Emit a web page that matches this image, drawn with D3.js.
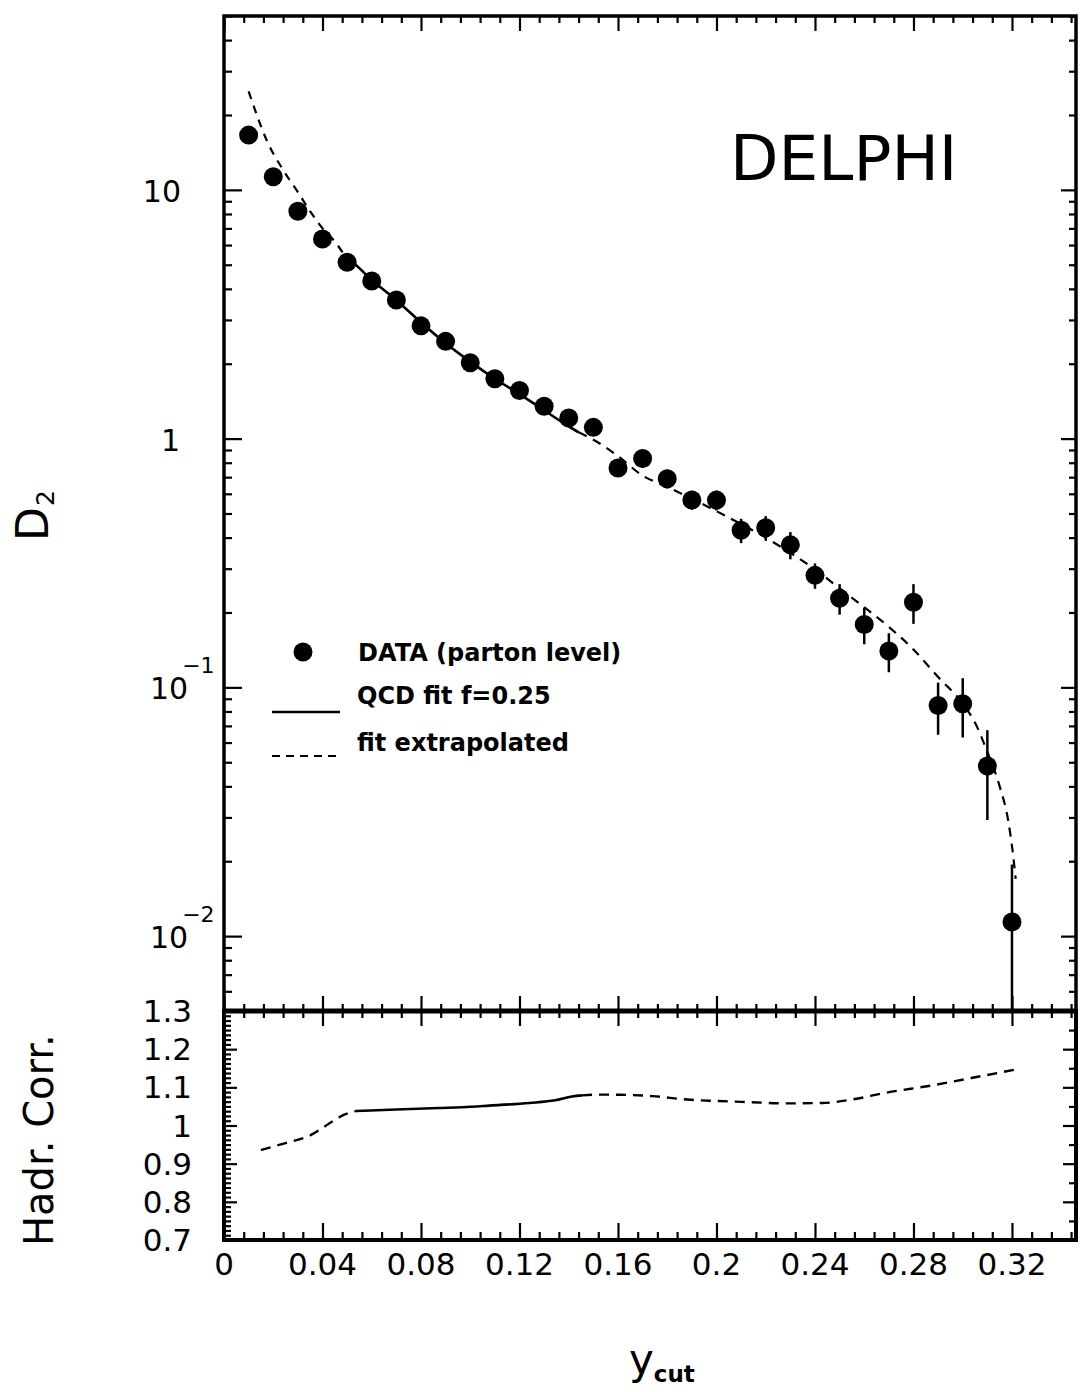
<!DOCTYPE html>
<html><head><meta charset="utf-8">
<script src="https://cdn.jsdelivr.net/npm/d3@7"></script>
<style>html,body{margin:0;padding:0;background:#fff;} svg{display:block;}</style>
</head><body>
<svg id="chart" width="1080" height="1392"></svg>
<script>
// ---------- data ----------
const yCut = [0.01,0.02,0.03,0.04,0.05,0.06,0.07,0.08,0.09,0.10,0.11,0.12,0.13,0.14,0.15,0.16,
              0.17,0.18,0.19,0.20,0.21,0.22,0.23,0.24,0.25,0.26,0.27,0.28,0.29,0.30,0.31,0.32];
const d2Data = [16.6,11.3,8.2,6.35,5.12,4.3,3.61,2.84,2.46,2.02,1.74,1.56,1.35,1.21,1.11,0.762,
                0.832,0.690,0.567,0.566,0.428,0.438,0.374,0.282,0.228,0.179,0.140,0.220,0.0845,0.0859,0.0483,0.0114];
const d2Err = [0.5,0.35,0.25,0.2,0.15,0.13,0.11,0.09,0.08,0.07,0.06,0.06,0.05,0.05,0.05,0.06,
               0.07,0.06,0.05,0.052,0.048,0.05,0.047,0.033,0.032,0.030,0.025,0.040,0.020,0.023,0.019,0.008];

// QCD fit, extrapolated part at small ycut (dashed)
const fitLowX = [0.01,0.0175,0.0236,0.03,0.035,0.04,0.045,0.049];
const fitLowY = [24.9,15.7,12.2,9.8,8.2,7.0,6.2,5.45];
// QCD fit f=0.25, fitted range (solid)
const fitMidX = [0.049,0.05,0.06,0.07,0.08,0.09,0.10,0.11,0.12,0.13,0.14,0.144];
const fitMidY = [5.45,5.36,4.34,3.60,2.93,2.42,2.04,1.74,1.51,1.30,1.12,1.06];
// QCD fit, extrapolated part at large ycut (dashed)
const fitHighX = [0.144,0.15,0.16,0.17,0.18,0.19,0.20,0.21,0.22,0.23,0.24,0.25,0.26,0.27,0.28,0.29,0.30,0.305,0.31,0.315,0.3185,0.3205,0.3215];
const fitHighY = [1.06,0.99,0.85,0.71,0.64,0.573,0.511,0.453,0.40,0.347,0.298,0.25,0.21,0.175,0.142,0.110,0.086,0.072,0.055,0.040,0.029,0.021,0.017];

// Hadronisation correction (bottom panel)
const hadLowX = [0.015,0.025,0.035,0.0427,0.048,0.0536];
const hadLowY = [0.936,0.954,0.974,1.005,1.026,1.038];
const hadMidX = [0.0536,0.07,0.0873,0.0967,0.1076,0.124,0.1345,0.1413,0.1454];
const hadMidY = [1.038,1.042,1.046,1.048,1.052,1.059,1.066,1.076,1.079];
const hadHighX = [0.1454,0.1523,0.161,0.174,0.188,0.201,0.214,0.228,0.243,0.255,0.269,0.2875,0.304,0.3216];
const hadHighY = [1.079,1.081,1.0805,1.077,1.068,1.064,1.061,1.058,1.059,1.068,1.086,1.105,1.125,1.147];

const xMajorTicks = [0,0.04,0.08,0.12,0.16,0.2,0.24,0.28,0.32];
const xTickLabels = ["0","0.04","0.08","0.12","0.16","0.2","0.24","0.28","0.32"];
const topDecades = [10,1,0.1,0.01];
const topDecadeLabels = [["10",""],["1",""],["10","\u22121"],["10","\u22122"]];
const botTicks = [0.7,0.8,0.9,1.0,1.1,1.2,1.3];
const botTickLabels = ["0.7","0.8","0.9","1","1.1","1.2","1.3"];

const legendLabels = ["DATA (parton level)","QCD fit f=0.25","fit extrapolated"];

// ---------- layout ----------
const L = 224, R = 1076, T = 16, J = 1011, B = 1240;
const svg = d3.select("#chart");
const x = d3.scaleLinear().domain([0, 0.346]).range([L, R]);
const yT = d3.scaleLog().domain([0.005, 50]).range([J, T]);
const yB = d3.scaleLinear().domain([0.7, 1.3]).range([B, J]);
const FONT = "'DejaVu Sans', sans-serif";

function styleAxis(g, w) {
  g.select(".domain").remove();
  g.selectAll(".tick line").attr("stroke", "#000").attr("stroke-width", w || 2.2);
  g.selectAll(".tick text").remove();
}
const minorX = d3.range(0, 0.3461, 0.008).filter(v => xMajorTicks.every(m => Math.abs(m - v) > 1e-6));
const logMinor = [];
[0.001,0.01,0.1,1,10].forEach(dec => { for (let k = 2; k <= 9; k++) { const v = dec*k; if (v >= 0.005 && v <= 50) logMinor.push(v); } });

// top panel: top axis (inward)
svg.append("g").attr("transform", `translate(0,${T})`).call(d3.axisBottom(x).tickValues(xMajorTicks).tickSize(15)).call(styleAxis);
svg.append("g").attr("transform", `translate(0,${T})`).call(d3.axisBottom(x).tickValues(minorX).tickSize(7)).call(styleAxis);
// junction ticks crossing both ways
svg.append("g").attr("transform", `translate(0,${J})`).call(d3.axisBottom(x).tickValues(xMajorTicks).tickSize(15)).call(styleAxis);
svg.append("g").attr("transform", `translate(0,${J})`).call(d3.axisTop(x).tickValues(xMajorTicks).tickSize(15)).call(styleAxis);
svg.append("g").attr("transform", `translate(0,${J})`).call(d3.axisBottom(x).tickValues(minorX).tickSize(7)).call(styleAxis);
svg.append("g").attr("transform", `translate(0,${J})`).call(d3.axisTop(x).tickValues(minorX).tickSize(7)).call(styleAxis);
// bottom panel bottom axis (inward)
svg.append("g").attr("transform", `translate(0,${B})`).call(d3.axisTop(x).tickValues(xMajorTicks).tickSize(17)).call(styleAxis);
svg.append("g").attr("transform", `translate(0,${B})`).call(d3.axisTop(x).tickValues(minorX).tickSize(8)).call(styleAxis);

// top panel left / right log axes (inward)
svg.append("g").attr("transform", `translate(${L},0)`).call(d3.axisRight(yT).tickValues(topDecades).tickSize(18)).call(styleAxis);
svg.append("g").attr("transform", `translate(${L},0)`).call(d3.axisRight(yT).tickValues(logMinor).tickSize(8)).call(styleAxis);
svg.append("g").attr("transform", `translate(${R},0)`).call(d3.axisLeft(yT).tickValues(topDecades).tickSize(15)).call(styleAxis);
svg.append("g").attr("transform", `translate(${R},0)`).call(d3.axisLeft(yT).tickValues(logMinor).tickSize(7)).call(styleAxis);

// bottom panel left / right axes
const botMinorL = d3.range(0.7, 1.3001, 0.0125).filter(v => botTicks.every(m => Math.abs(m - v) > 1e-6));
const botMinorR = d3.range(0.75, 1.3, 0.1);
svg.append("g").attr("transform", `translate(${L},0)`).call(d3.axisRight(yB).tickValues(botTicks).tickSize(13)).call(styleAxis);
svg.append("g").attr("transform", `translate(${L},0)`).call(d3.axisRight(yB).tickValues(botMinorL).tickSize(7)).call(styleAxis);
svg.append("g").attr("transform", `translate(${R},0)`).call(d3.axisLeft(yB).tickValues(botTicks).tickSize(13)).call(styleAxis);
svg.append("g").attr("transform", `translate(${R},0)`).call(d3.axisLeft(yB).tickValues(botMinorR).tickSize(7)).call(styleAxis);

// frames
svg.append("rect").attr("x", L).attr("y", T).attr("width", R - L).attr("height", J - T)
  .attr("fill", "none").attr("stroke", "#000").attr("stroke-width", 3.5);
svg.append("rect").attr("x", L).attr("y", J).attr("width", R - L).attr("height", B - J)
  .attr("fill", "none").attr("stroke", "#000").attr("stroke-width", 4);
svg.append("line").attr("x1", L).attr("x2", R).attr("y1", J).attr("y2", J).attr("stroke", "#000").attr("stroke-width", 5);

// tick labels
const tl = svg.append("g").attr("font-family", FONT).attr("fill", "#000");
xMajorTicks.forEach((v, i) => {
  tl.append("text").attr("x", x(v)).attr("y", 1275).attr("text-anchor", "middle").attr("font-size", 31).text(xTickLabels[i]);
});
botTicks.forEach((v, i) => {
  tl.append("text").attr("x", 192).attr("y", yB(v) + 11).attr("text-anchor", "end").attr("font-size", 31).text(botTickLabels[i]);
});
topDecades.forEach((v, i) => {
  const [base, exp] = topDecadeLabels[i];
  if (!exp) {
    tl.append("text").attr("x", base === "1" ? 180 : 181).attr("y", yT(v) + 12).attr("text-anchor", "end").attr("font-size", 30).text(base);
  } else {
    const t = tl.append("text").attr("x", 150).attr("y", yT(v) + 12).attr("text-anchor", "start").attr("font-size", 30);
    t.append("tspan").text(base);
    t.append("tspan").attr("font-size", 22).attr("dy", -26).attr("dx", -6).text(exp);
  }
});

// clip for top panel
svg.append("clipPath").attr("id", "clipTop").append("rect").attr("x", L).attr("y", T).attr("width", R - L).attr("height", J - T);

// fit curves top
const lineT = d3.line().x(d => x(d[0])).y(d => yT(d[1])).curve(d3.curveMonotoneX);
const zip = (a, b) => a.map((v, i) => [v, b[i]]);
const gT = svg.append("g").attr("clip-path", "url(#clipTop)");
gT.append("path").attr("d", lineT(zip(fitLowX, fitLowY))).attr("fill", "none").attr("stroke", "#000").attr("stroke-width", 2.2).attr("stroke-dasharray", "8,7");
gT.append("path").attr("d", lineT(zip(fitMidX, fitMidY))).attr("fill", "none").attr("stroke", "#000").attr("stroke-width", 2.6);
gT.append("path").attr("d", lineT(zip(fitHighX, fitHighY))).attr("fill", "none").attr("stroke", "#000").attr("stroke-width", 2.2).attr("stroke-dasharray", "9,7");

// error bars and points
const pts = yCut.map((v, i) => ({x: v, y: d2Data[i], e: d2Err[i]}));
gT.selectAll("line.err").data(pts).enter().append("line")
  .attr("x1", d => x(d.x)).attr("x2", d => x(d.x))
  .attr("y1", d => yT(d.y + d.e)).attr("y2", d => yT(Math.max(d.y - d.e, 0.004)))
  .attr("stroke", "#000").attr("stroke-width", 2.5);
gT.selectAll("circle.pt").data(pts).enter().append("circle")
  .attr("cx", d => x(d.x)).attr("cy", d => yT(d.y)).attr("r", 9.5).attr("fill", "#000");

// bottom panel curves
const lineB = d3.line().x(d => x(d[0])).y(d => yB(d[1])).curve(d3.curveMonotoneX);
svg.append("path").attr("d", lineB(zip(hadLowX, hadLowY))).attr("fill", "none").attr("stroke", "#000").attr("stroke-width", 2.4).attr("stroke-dasharray", "10,7");
svg.append("path").attr("d", lineB(zip(hadMidX, hadMidY))).attr("fill", "none").attr("stroke", "#000").attr("stroke-width", 2.6);
svg.append("path").attr("d", lineB(zip(hadHighX, hadHighY))).attr("fill", "none").attr("stroke", "#000").attr("stroke-width", 2.4).attr("stroke-dasharray", "10,7");

// DELPHI label
svg.append("text").attr("x", 730).attr("y", 180).attr("font-family", FONT).attr("font-size", 63).text("DELPHI");

// legend
const lg = svg.append("g").attr("font-family", FONT).attr("font-weight", "bold").attr("font-size", 24);
lg.append("circle").attr("cx", 303).attr("cy", 652).attr("r", 9.5).attr("fill", "#000");
lg.append("text").attr("x", 358).attr("y", 661).text(legendLabels[0]);
lg.append("line").attr("x1", 272).attr("x2", 340).attr("y1", 712).attr("y2", 712).attr("stroke", "#000").attr("stroke-width", 2.4);
lg.append("text").attr("x", 357).attr("y", 704).text(legendLabels[1]);
lg.append("line").attr("x1", 272).attr("x2", 340).attr("y1", 756).attr("y2", 756).attr("stroke", "#000").attr("stroke-width", 2.2).attr("stroke-dasharray", "8,6");
lg.append("text").attr("x", 357).attr("y", 751).text(legendLabels[2]);

// axis titles
const t1 = svg.append("text").attr("transform", "translate(48,541) rotate(-90)").attr("font-family", FONT).attr("font-size", 44);
t1.append("tspan").text("D");
t1.append("tspan").attr("font-size", 25).attr("dy", 6).attr("dx", 1).text("2");
svg.append("text").attr("transform", "translate(53,1246) rotate(-90)").attr("font-family", FONT).attr("font-size", 40).text("Hadr. Corr.");
const t3 = svg.append("text").attr("x", 629).attr("y", 1374).attr("font-family", FONT).attr("font-size", 42);
t3.append("tspan").text("y");
t3.append("tspan").attr("font-size", 23).attr("font-weight", "bold").attr("dy", 8).attr("dx", 0).text("cut");
</script>
</body></html>
